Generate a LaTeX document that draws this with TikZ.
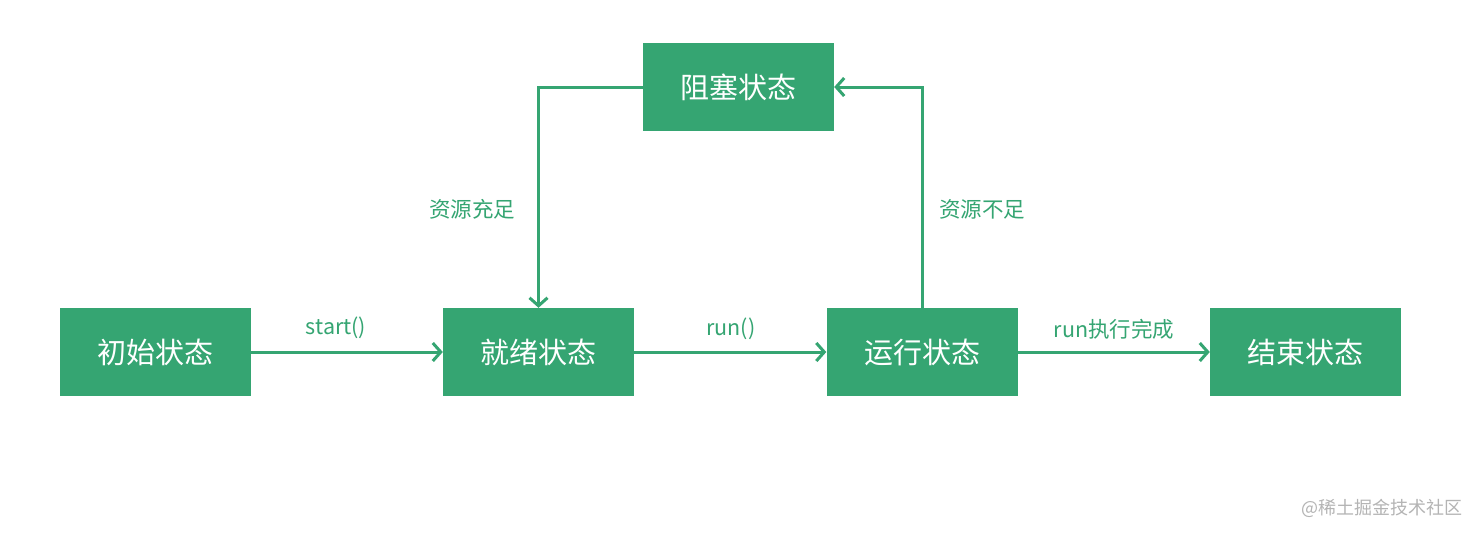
\documentclass[tikz,border=0pt]{standalone}
\usepackage{fontspec}
\setmainfont{Noto Sans CJK SC}
\usetikzlibrary{arrows.meta}
\definecolor{stgreen}{HTML}{35A572}
\definecolor{wmgray}{HTML}{B4B4B4}
\begin{document}
\begin{tikzpicture}[x=1pt,y=-1pt,
    state/.style={fill=stgreen,text=white,minimum width=191pt,minimum height=88pt,
      inner sep=0pt,font=\fontsize{29}{31}\selectfont},
    arr/.style={draw=stgreen,line width=3pt,-{Straight Barb[length=8pt,width=18pt,line width=3pt]}},
    lbl/.style={text=stgreen,inner sep=0pt,font=\fontsize{21.5}{24}\selectfont}]
  \useasboundingbox[fill=white] (0,0) rectangle (1480,536);
  % states
  \node[state] (init) at (155.5,352) {初始状态};
  \node[state] (ready) at (538.5,352) {就绪状态};
  \node[state] (running) at (922,352) {运行状态};
  \node[state] (done) at (1305.5,352) {结束状态};
  \node[state] (blocked) at (738.5,87) {阻塞状态};
  % transitions
  \draw[arr] (init) -- (ready);
  \draw[arr] (ready) -- (running);
  \draw[arr] (running) -- (done);
  \draw[arr] (blocked.west) -| (ready.north);
  \draw[arr] (running.north) |- (blocked.east);
  \node[lbl] (lstart) at (336,328) {start()};
  \node[lbl] (lrun) at (731,329) {run()};
  \node[lbl] (lend) at (1114,329) {run执行完成};
  \node[lbl] (lenough) at (472,209) {资源充足};
  \node[lbl] (llack) at (982,209) {资源不足};
  \node[text=wmgray,inner sep=0pt,font=\fontsize{18}{20}\selectfont] (mark) at (1382,508) {@稀土掘金技术社区};
\end{tikzpicture}
\end{document}
